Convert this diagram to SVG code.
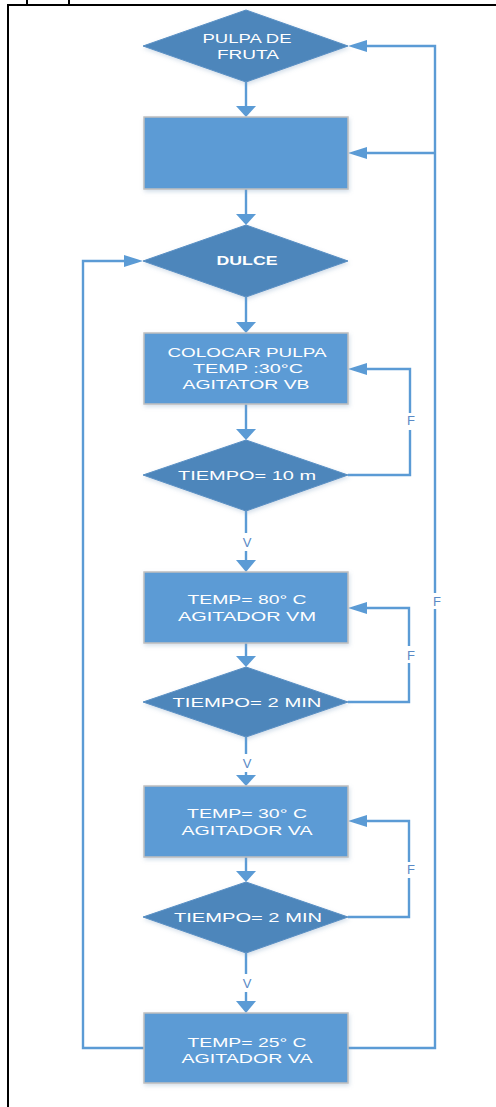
<svg xmlns="http://www.w3.org/2000/svg" width="496" height="1107" viewBox="0 0 496 1107">
  <defs>
    <filter id="soft" x="-10%" y="-10%" width="125%" height="130%">
      <feDropShadow dx="1" dy="2" stdDeviation="2" flood-color="#7f9fc0" flood-opacity="0.35"/>
    </filter>
  </defs>
  <style>
    .frame { stroke: #000; stroke-width: 2; fill: none; }
    .dec { fill: #4E86BB; stroke: #5A90C4; stroke-width: 1; filter: url(#soft); }
    .proc { fill: #5B9BD5; stroke: #BFBFBF; stroke-width: 1.5; filter: url(#soft); }
    .t { font-family: "Liberation Sans", Arial, sans-serif; font-size: 13.5px; fill: #ffffff; text-anchor: middle; }
    .b { font-weight: bold; }
    .wire { stroke: #5B9BD5; stroke-width: 2.4; fill: none; }
    .head { fill: #5B9BD5; }
    .lbl { font-family: "Liberation Sans", Arial, sans-serif; font-size: 13px; fill: #5A8AC6; text-anchor: middle; }
  </style>

  <!-- page frame -->
  <g id="frame">
    <path class="frame" d="M8 1107 V5 H496"/>
    <path class="frame" d="M27 0 V4 M69 0 V4" stroke-width="1.5"/>
  </g>

  <!-- connectors -->
  <g id="connectors">
    <!-- main flow -->
    <path class="wire" d="M246 82 V106"/>
    <polygon class="head" points="236,106 256,106 246,117"/>
    <path class="wire" d="M246 189 V214"/>
    <polygon class="head" points="236,214 256,214 246,225"/>
    <path class="wire" d="M246 297 V322"/>
    <polygon class="head" points="236,322 256,322 246,333"/>
    <path class="wire" d="M246 404 V429"/>
    <polygon class="head" points="236,429 256,429 246,440"/>
    <path class="wire" d="M246 511 V533 M246 551 V560"/>
    <polygon class="head" points="236,560 256,560 246,572"/>
    <path class="wire" d="M246 643 V656"/>
    <polygon class="head" points="236,656 256,656 246,667"/>
    <path class="wire" d="M246 737 V754 M246 772 V775"/>
    <polygon class="head" points="236,775 256,775 246,786"/>
    <path class="wire" d="M246 857 V871"/>
    <polygon class="head" points="236,871 256,871 246,882"/>
    <path class="wire" d="M246 953 V974 M246 992 V1001"/>
    <polygon class="head" points="236,1001 256,1001 246,1013"/>

    <!-- F loops back to each process -->
    <path class="wire" d="M348 475 H410 V430 M410 413 V369 H366"/>
    <polygon class="head" points="367,363 367,375 348,369"/>
    <path class="wire" d="M348 702 H409 V663 M409 646 V608 H366"/>
    <polygon class="head" points="367,602 367,614 348,608"/>
    <path class="wire" d="M348 917 H409 V878 M409 862 V821 H366"/>
    <polygon class="head" points="367,815 367,827 348,821"/>

    <!-- return to DULCE -->
    <path class="wire" d="M144 1048 H83 V261 H125"/>
    <polygon class="head" points="124,255 124,267 143,261"/>

    <!-- return to start -->
    <path class="wire" d="M348 1048 H435 V609 M435 593 V46 H366"/>
    <polygon class="head" points="367,40 367,52 348,46"/>
    <path class="wire" d="M435 153 H366"/>
    <polygon class="head" points="367,147 367,159 348,153"/>

    <!-- branch labels -->
    <text class="lbl" x="411" y="425">F</text>
    <text class="lbl" x="411" y="660">F</text>
    <text class="lbl" x="411" y="874">F</text>
    <text class="lbl" x="437" y="606">F</text>
    <text class="lbl" x="247" y="547" font-size="14">V</text>
    <text class="lbl" x="247" y="768" font-size="14">V</text>
    <text class="lbl" x="247" y="988" font-size="14">V</text>
  </g>

  <g id="n1">
    <polygon class="dec" points="143,46 246,10 348,46 246,82"/>
    <text class="t" x="247" y="43" textLength="89" lengthAdjust="spacingAndGlyphs">PULPA DE</text>
    <text class="t" x="248" y="59" textLength="62" lengthAdjust="spacingAndGlyphs">FRUTA</text>
  </g>

  <g id="n2">
    <rect class="proc" x="144" y="117" width="204" height="72"/>
  </g>

  <g id="n3">
    <polygon class="dec" points="143,261 246,225 348,261 246,297"/>
    <text class="t b" x="247" y="265" textLength="61" lengthAdjust="spacingAndGlyphs">DULCE</text>
  </g>

  <g id="n4">
    <rect class="proc" x="144" y="333" width="204" height="71"/>
    <text class="t" x="247" y="357" textLength="159" lengthAdjust="spacingAndGlyphs">COLOCAR PULPA</text>
    <text class="t" x="248" y="373" textLength="110" lengthAdjust="spacingAndGlyphs">TEMP :30°C</text>
    <text class="t" x="246" y="389" textLength="127" lengthAdjust="spacingAndGlyphs">AGITATOR VB</text>
  </g>

  <g id="n5">
    <polygon class="dec" points="143,475 246,440 348,475 246,511"/>
    <text class="t" x="247" y="480" textLength="138" lengthAdjust="spacingAndGlyphs">TIEMPO= 10 m</text>
  </g>

  <g id="n6">
    <rect class="proc" x="144" y="572" width="204" height="71"/>
    <text class="t" x="247" y="604" textLength="119" lengthAdjust="spacingAndGlyphs">TEMP= 80° C</text>
    <text class="t" x="247" y="621" textLength="138" lengthAdjust="spacingAndGlyphs">AGITADOR VM</text>
  </g>

  <g id="n7">
    <polygon class="dec" points="143,702 246,667 348,702 246,737"/>
    <text class="t" x="247" y="707" textLength="149" lengthAdjust="spacingAndGlyphs">TIEMPO= 2 MIN</text>
  </g>

  <g id="n8">
    <rect class="proc" x="144" y="786" width="204" height="71"/>
    <text class="t" x="247" y="818" textLength="120" lengthAdjust="spacingAndGlyphs">TEMP= 30° C</text>
    <text class="t" x="247" y="835" textLength="131" lengthAdjust="spacingAndGlyphs">AGITADOR VA</text>
  </g>

  <g id="n9">
    <polygon class="dec" points="143,917 246,882 348,917 246,953"/>
    <text class="t" x="248" y="922" textLength="148" lengthAdjust="spacingAndGlyphs">TIEMPO= 2 MIN</text>
  </g>

  <g id="n10">
    <rect class="proc" x="144" y="1013" width="204" height="70"/>
    <text class="t" x="247" y="1047" textLength="119" lengthAdjust="spacingAndGlyphs">TEMP= 25° C</text>
    <text class="t" x="247" y="1063" textLength="131" lengthAdjust="spacingAndGlyphs">AGITADOR VA</text>
  </g>
</svg>
